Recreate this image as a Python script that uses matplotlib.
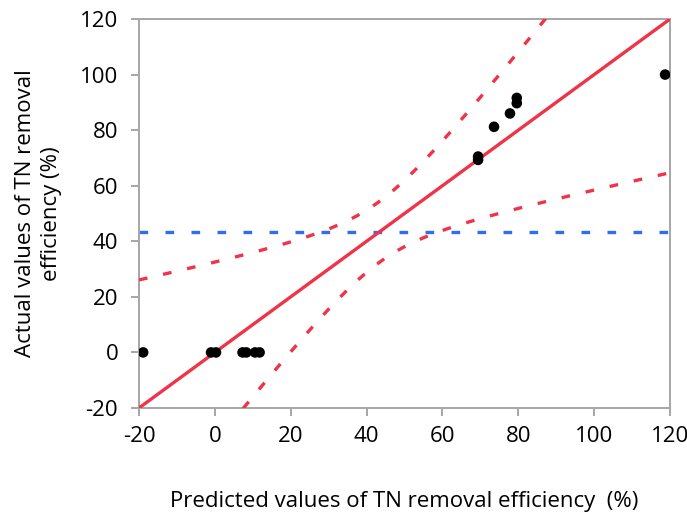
#!/usr/bin/env python3
"""Actual vs. predicted TN removal efficiency with fit line and confidence curves."""

import numpy as np
import matplotlib
matplotlib.use("Agg")
import matplotlib.pyplot as plt

# observed runs: predicted and actual TN removal efficiency (%)
predicted = [-18.9, -1.0, 0.3, 7.3, 8.3, 10.6, 11.8,
             69.4, 69.4, 73.6, 77.8, 79.6, 79.6, 118.7]
actual = [0.0, 0.0, 0.0, 0.0, 0.0, 0.0, 0.0,
          70.5, 69.3, 81.2, 86.0, 91.6, 89.7, 100.0]

# mean of the response and confidence-curve parameters of the fit
mean_actual = 43.4
ci_center = 43.3
ci_var0 = 120.0      # squared half-width at the center
ci_slope_var = 0.5   # growth of squared half-width away from the center

ticks = [-20, 0, 20, 40, 60, 80, 100, 120]
lim = (-20, 120)

RED = "#ef3449"
BLUE = "#2f6ef2"
GRAY = "#a6a6a6"

plt.rcParams["font.family"] = ["Open Sans", "DejaVu Sans"]
plt.rcParams["axes.unicode_minus"] = False

fig = plt.figure(figsize=(6.87, 5.22), dpi=100)
ax = fig.add_axes([0.2023, 0.2184, 0.7730, 0.7452])

xs = np.linspace(lim[0], lim[1], 600)
half = np.sqrt(ci_var0 + ci_slope_var * (xs - ci_center) ** 2)

ax.plot(xs, xs, color=RED, lw=2.4, solid_capstyle="butt", zorder=3)
for curve in (xs + half, xs - half):
    ax.plot(xs, curve, color=RED, lw=2.4, ls=(0, (2.6, 4.8)),
            dash_capstyle="butt", zorder=3)
ax.axhline(mean_actual, color=BLUE, lw=2.4, ls=(0, (2.6, 5.2)),
           dash_capstyle="butt", zorder=2)

ax.scatter(predicted, actual, s=58, color="black", edgecolors="none", zorder=4)

ax.set_xlim(lim)
ax.set_ylim(lim)
ax.set_xticks(ticks)
ax.set_yticks(ticks)

for spine in ax.spines.values():
    spine.set_color(GRAY)
    spine.set_linewidth(1.4)
ax.tick_params(direction="out", length=6, width=1.4, color=GRAY,
               labelsize=16)
ax.tick_params(axis="y", pad=9)
ax.tick_params(axis="x", pad=7)

ax.set_xlabel("Predicted values of TN removal efficiency  (%)",
              fontsize=16, labelpad=32)
ax.set_ylabel("Actual values of TN removal\nefficiency (%)",
              fontsize=16, labelpad=13, linespacing=1.3)

fig.savefig("out.png", dpi=100)
